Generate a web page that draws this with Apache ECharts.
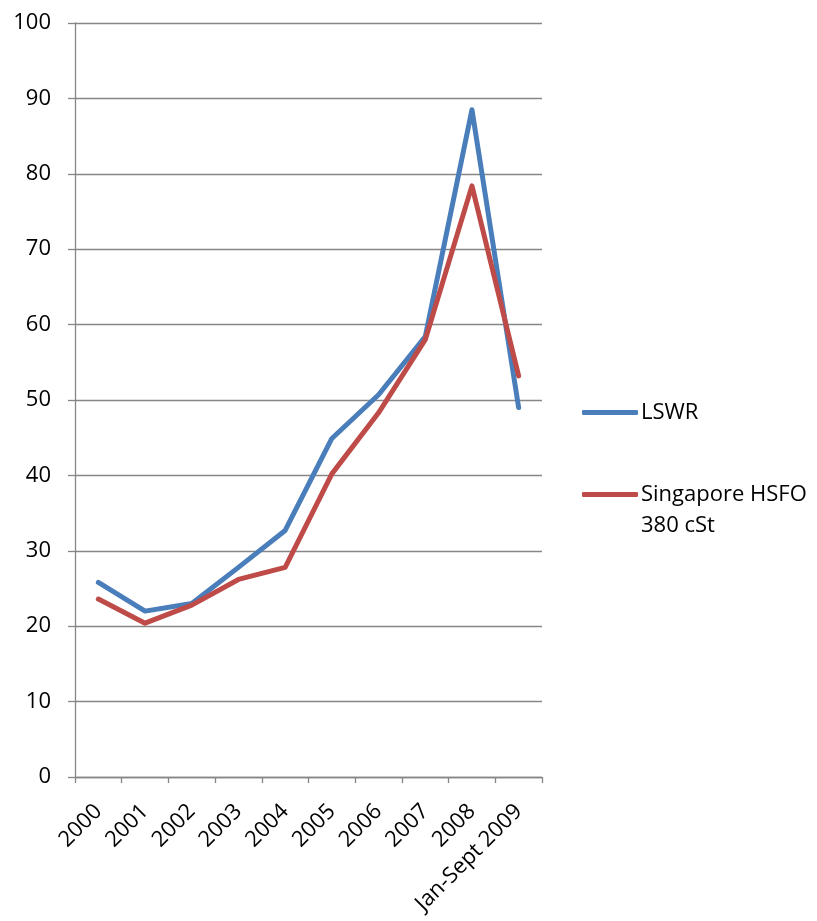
<!DOCTYPE html>
<html>
<head>
<meta charset="utf-8">
<script src="https://cdn.jsdelivr.net/npm/echarts@6/dist/echarts.min.js"></script>
<style>
html,body{margin:0;padding:0;background:#fff;}
#chart{width:817px;height:921px;}
</style>
</head>
<body>
<div id="chart"></div>
<script>
var categories = ['2000','2001','2002','2003','2004','2005','2006','2007','2008','Jan-Sept 2009'];
var lswr = [25.8, 22.0, 23.0, 27.8, 32.7, 44.9, 50.7, 58.4, 88.5, 49.0];
var hsfo = [23.6, 20.4, 22.8, 26.2, 27.8, 40.2, 48.3, 58.0, 78.4, 53.2];
var yTicks = [0, 100, 10];
var seriesNames = ['LSWR', 'Singapore HSFO\n380 cSt'];

var FONT = 'Open Sans';
var FS = 22;
var chart = echarts.init(document.getElementById('chart'), null, {renderer:'canvas'});
chart.setOption({
  animation: false,
  backgroundColor: '#ffffff',
  textStyle: {fontFamily: FONT},
  grid: {left: 75, right: 275, top: 23, bottom: 144, containLabel: false},
  legend: {
    orient: 'vertical',
    left: 582,
    top: 397,
    padding: 0,
    itemWidth: 56,
    itemHeight: 5,
    itemGap: 20,
    icon: 'roundRect',
    formatter: function (name) { return name === seriesNames[1] ? '\u00a0\n' + name : name; },
    textStyle: {fontFamily: FONT, fontSize: FS, color: '#000', lineHeight: 31, padding: [0, 0, 0, -2]},
    data: seriesNames
  },
  xAxis: {
    type: 'category',
    data: categories,
    boundaryGap: true,
    axisLine: {show: true, lineStyle: {color: '#868686', width: 1.3}},
    axisTick: {show: true, alignWithLabel: false, length: 6, lineStyle: {color: '#868686', width: 1.3}},
    axisLabel: {rotate: 45, margin: 31, fontFamily: FONT, fontSize: FS, color: '#000', interval: 0},
    splitLine: {show: false}
  },
  yAxis: {
    type: 'value',
    min: yTicks[0],
    max: yTicks[1],
    interval: yTicks[2],
    axisLine: {show: true, lineStyle: {color: '#868686', width: 1.3}},
    axisTick: {show: true, inside: false, length: 7, lineStyle: {color: '#868686', width: 1.3}},
    axisLabel: {margin: 24, fontFamily: FONT, fontSize: FS, color: '#000'},
    splitLine: {show: true, lineStyle: {color: '#868686', width: 1.3}}
  },
  series: [
    {name: seriesNames[0], type: 'line', data: lswr, symbol: 'none',
     lineStyle: {color: '#4A7EBB', width: 5, cap: 'round', join: 'round'}, itemStyle: {color: '#4A7EBB'}},
    {name: seriesNames[1], type: 'line', data: hsfo, symbol: 'none',
     lineStyle: {color: '#BE4B48', width: 5, cap: 'round', join: 'round'}, itemStyle: {color: '#BE4B48'}}
  ]
});
</script>
</body>
</html>
